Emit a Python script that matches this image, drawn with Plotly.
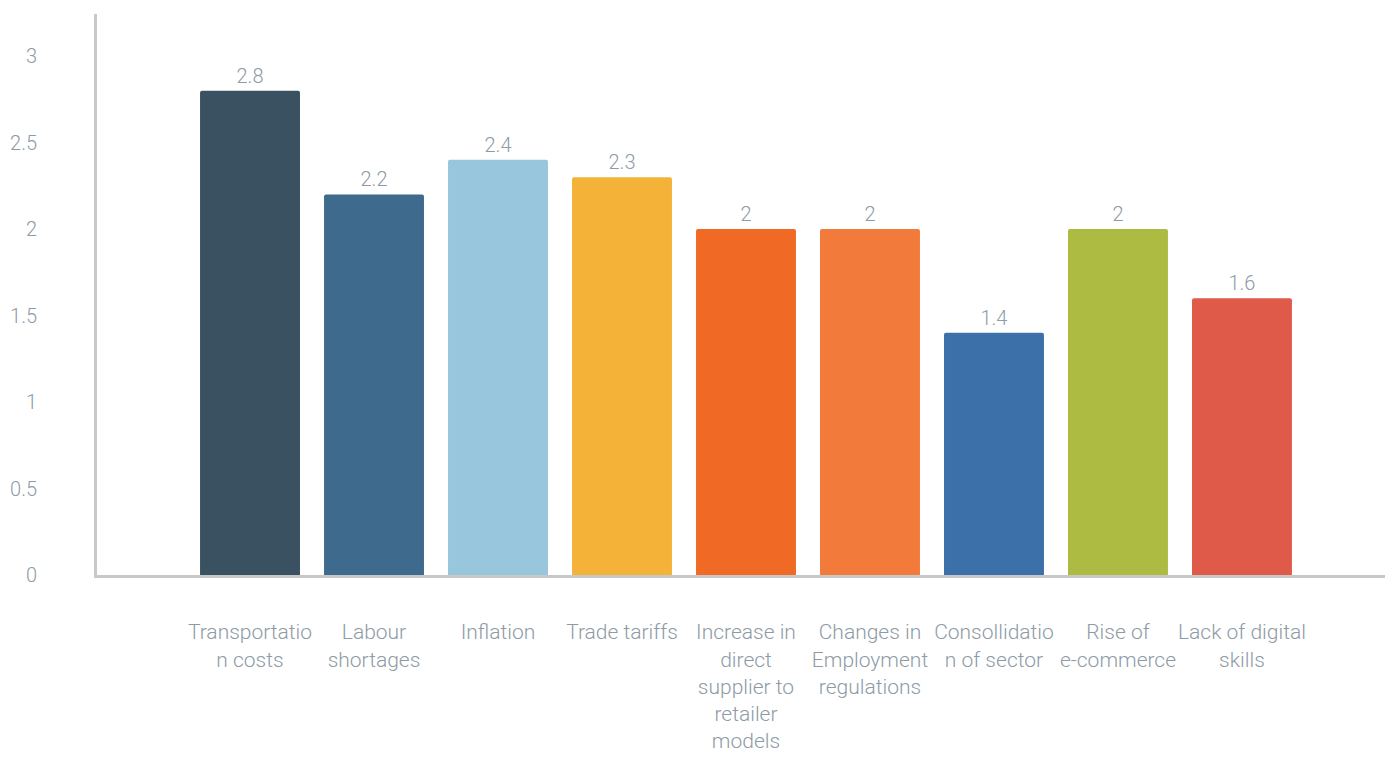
import plotly.graph_objects as go

categories = ["Transportatio<br>n costs", "Labour<br>shortages", "Inflation", "Trade tariffs",
              "Increase in<br>direct<br>supplier to<br>retailer<br>models",
              "Changes in<br>Employment<br>regulations", "Consollidatio<br>n of sector",
              "Rise of<br>e-commerce", "Lack of digital<br>skills"]
values = [2.8, 2.2, 2.4, 2.3, 2, 2, 1.4, 2, 1.6]
value_labels = ["2.8", "2.2", "2.4", "2.3", "2", "2", "1.4", "2", "1.6"]
colors = ["#3a5162", "#3e6a8d", "#98c6dd", "#f5b238", "#f06a25", "#f27a3a", "#3c70a8", "#aebb43", "#e05a4a"]
y_ticks = [0, 0.5, 1, 1.5, 2, 2.5, 3]

text_color = "#8e9ba6"
font_family = "Roboto Light, Roboto"

x_idx = list(range(len(categories)))

fig = go.Figure(go.Bar(
    x=x_idx, y=values, marker=dict(color=colors, line=dict(width=0), cornerradius=2),
    width=0.806, text=value_labels, textposition="outside", cliponaxis=False,
    textfont=dict(size=20, color=text_color, family=font_family, weight=300),
))

fig.update_layout(
    width=1385, height=755, paper_bgcolor="white", plot_bgcolor="white",
    margin=dict(l=89, r=0, t=6, b=188), showlegend=False,
    font=dict(family=font_family, size=20, color=text_color, weight=300),
    bargap=0.2,
)
fig.update_xaxes(
    range=[-1.234, 9.218], tickvals=x_idx, ticktext=categories, automargin=False,
    showline=True, linecolor="#c8c8c8", linewidth=3, showgrid=False, zeroline=False,
    ticks="", ticklabelstandoff=36, tickangle=0,
    tickfont=dict(size=21, color=text_color, family=font_family, weight=300),
)
fig.update_yaxes(
    range=[0, 3.243], tickvals=y_ticks, ticktext=[f"{t:g}" for t in y_ticks], automargin=False,
    showline=True, linecolor="#c8c8c8", linewidth=3, showgrid=False, zeroline=False,
    ticks="", ticklabelstandoff=53,
    tickfont=dict(size=20, color=text_color, family=font_family, weight=300),
)

fig.write_html("out.html")
